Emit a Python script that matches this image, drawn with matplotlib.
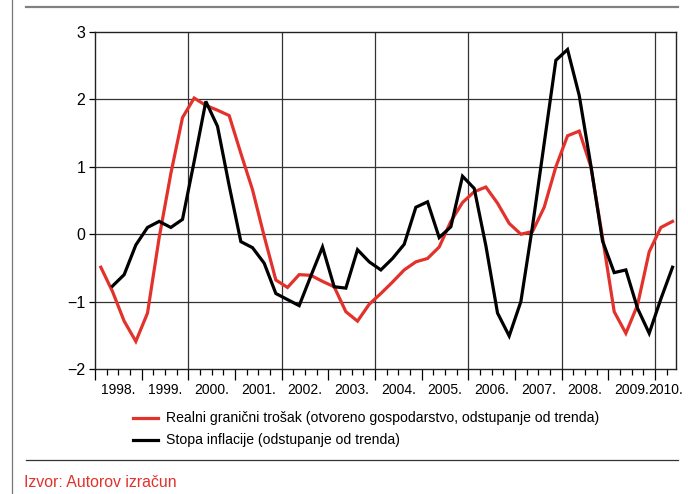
import matplotlib
matplotlib.use("Agg")
import matplotlib.pyplot as plt
from matplotlib.lines import Line2D
from matplotlib.transforms import blended_transform_factory
import numpy as np

# ---------------- data ----------------
years = [1998, 1999, 2000, 2001, 2002, 2003, 2004, 2005, 2006, 2007, 2008, 2009, 2010]
year_labels = ["1998.", "1999.", "2000.", "2001.", "2002.", "2003.", "2004.", "2005.",
               "2006.", "2007.", "2008.", "2009.", "2010."]

# quarterly, 1998Q1 .. 2010Q2
red_start = (1998, 1)
red_values = [-0.49, -0.85, -1.29, -1.59, -1.17, -0.05, 0.90, 1.73,
              2.02, 1.91, 1.84, 1.76, 1.20, 0.66, -0.03, -0.68,
              -0.79, -0.60, -0.61, -0.70, -0.78, -1.15, -1.29, -1.04,
              -0.88, -0.71, -0.53, -0.41, -0.36, -0.19, 0.19, 0.47,
              0.63, 0.70, 0.46, 0.16, 0.00, 0.04, 0.40, 1.00,
              1.46, 1.53, 1.00, -0.05, -1.15, -1.47, -1.05, -0.26,
              0.10, 0.19]
# quarterly, 1998Q2 .. 2010Q2
black_start = (1998, 2)
black_values = [-0.77, -0.60, -0.16, 0.10, 0.19, 0.10, 0.22,
                1.08, 1.97, 1.60, 0.72, -0.11, -0.20, -0.43, -0.88,
                -0.97, -1.06, -0.62, -0.19, -0.78, -0.80, -0.23, -0.41,
                -0.53, -0.36, -0.15, 0.40, 0.48, -0.05, 0.11, 0.86,
                0.68, -0.17, -1.17, -1.51, -1.00, 0.12, 1.35, 2.58,
                2.74, 2.06, 1.02, -0.10, -0.57, -0.53, -1.10, -1.47,
                -0.96, -0.49]

red_label = "Realni granični trošak (otvoreno gospodarstvo, odstupanje od trenda)"
black_label = "Stopa inflacije (odstupanje od trenda)"
source_text = "Izvor: Autorov izračun"


def quarter_x(start, n):
    y0, q0 = start
    idx = np.arange(n) + (q0 - 1)
    return y0 + idx / 4.0 + 0.125


RED = "#e2322b"
FONT = ["Liberation Sans", "DejaVu Sans"]
plt.rcParams["font.family"] = FONT

W, H = 688, 494
fig = plt.figure(figsize=(W / 100, H / 100), dpi=100)
renderer = fig.canvas.get_renderer()


def fx(px):
    return px / W


def fy(py):
    return 1 - py / H


def fit(txt, target_px):
    w = txt.get_window_extent(renderer).width
    txt.set_fontsize(txt.get_fontsize() * target_px / w)


ax = fig.add_axes([fx(95), fy(369), fx(676) - fx(95), fy(32) - fy(369)])

ax.plot(quarter_x(red_start, len(red_values)), red_values, color=RED, lw=2.3,
        solid_joinstyle="miter", zorder=3)
ax.plot(quarter_x(black_start, len(black_values)), black_values, color="black", lw=2.3,
        solid_joinstyle="miter", zorder=4)

x_right = 1998 + 581 / 46.67
ax.set_xlim(1998, x_right)
ax.set_ylim(-2, 3)

# grid
for yv in range(-1, 3):
    ax.axhline(yv, color="#333333", lw=0.9, zorder=1)
for xv in years[::2]:
    if xv > 1998:
        ax.axvline(xv, color="#333333", lw=0.9, zorder=1)

for s in ax.spines.values():
    s.set_linewidth(1.0)
    s.set_color("#222222")

ax.set_yticks(range(-2, 4))
ax.set_yticklabels(["\u22122", "\u22121", "0", "1", "2", "3"])
ax.tick_params(axis="y", direction="out", length=4, width=0.9, pad=3,
               labelsize=11.5)

ax.set_xticks(years)
ax.set_xticklabels([])
ax.set_xticks(np.arange(1998, 2010.3, 0.25), minor=True)
ax.tick_params(axis="x", which="major", direction="out", length=8, width=0.9)
ax.tick_params(axis="x", which="minor", direction="out", length=4, width=0.9)

trans = blended_transform_factory(ax.transData, ax.transAxes)
ylabs = []
for yr, lab in zip(years, year_labels):
    xc = yr + 0.5
    if yr + 1 > x_right:
        xc = (yr + x_right) / 2
    t = ax.text(xc, -0.062, lab, transform=trans, ha="center", va="center",
                fontsize=11.5)
    ylabs.append(t)
fit(ylabs[0], 35)
for t in ylabs[1:]:
    t.set_fontsize(ylabs[0].get_fontsize())

# legend (manual)
fig.add_artist(Line2D([fx(133), fx(158)], [fy(418), fy(418)], color=RED, lw=2.3))
fig.add_artist(Line2D([fx(133), fx(158)], [fy(440), fy(440)], color="black", lw=2.3))
t1 = fig.text(fx(166), fy(418), red_label, ha="left", va="center", fontsize=11.5)
t2 = fig.text(fx(166), fy(440), black_label, ha="left", va="center", fontsize=11.5)
fit(t1, 432)
t2.set_fontsize(t1.get_fontsize())

# frame decorations
fig.add_artist(Line2D([fx(26), fx(678)], [fy(7), fy(7)], color="#808080", lw=1.6))
fig.add_artist(Line2D([fx(26), fx(678)], [fy(460), fy(460)], color="#333333", lw=0.9))
fig.add_artist(Line2D([fx(12), fx(12)], [0, 1], color="#777777", lw=0.9))

ts = fig.text(fx(24), fy(482), source_text, ha="left", va="center", fontsize=12,
              color=RED)
fit(ts, 154)

fig.savefig("out.png", dpi=100)
